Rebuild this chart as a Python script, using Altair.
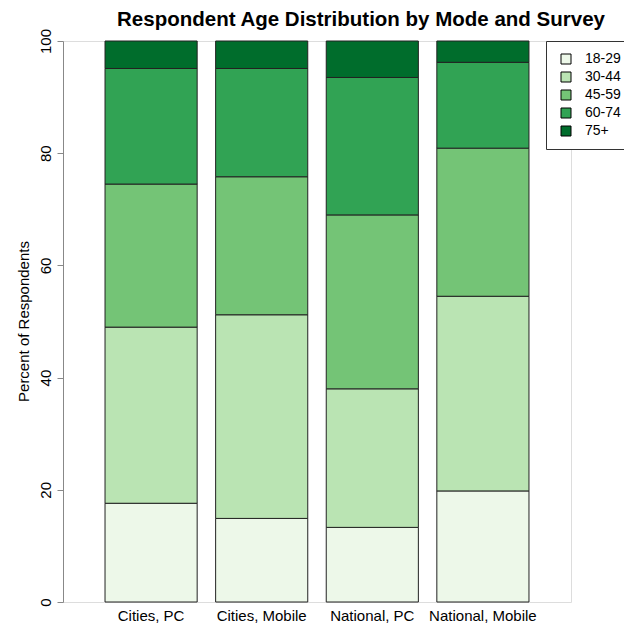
import altair as alt
import pandas as pd

# Survey groups (bars) and age bands (stack segments, bottom to top)
surveys = ["Cities, PC", "Cities, Mobile", "National, PC", "National, Mobile"]
age_groups = ["18-29", "30-44", "45-59", "60-74", "75+"]

# Percent of respondents in each age band, per survey group
pct_18_29 = [17.6, 14.9, 13.3, 19.8]
pct_30_44 = [31.4, 36.3, 24.7, 34.7]
pct_45_59 = [25.5, 24.6, 31.0, 26.4]
pct_60_74 = [20.6, 19.3, 24.5, 15.3]
pct_75_up = [4.9, 4.9, 6.5, 3.8]

greens = ["#edf8e9", "#bae4b3", "#74c476", "#31a354", "#006d2c"]
y_ticks = [0, 20, 40, 60, 80, 100]

series = [pct_18_29, pct_30_44, pct_45_59, pct_60_74, pct_75_up]
rows = []
for k, (age, vals) in enumerate(zip(age_groups, series)):
    for s, v in zip(surveys, vals):
        rows.append({"survey": s, "age": age, "order": k, "pct": v})
df = pd.DataFrame(rows)

FONT = "Liberation Sans"

bars = alt.Chart(df).mark_bar(stroke="#222222", strokeWidth=1).encode(
    x=alt.X(
        "survey:N",
        sort=surveys,
        title=None,
        scale=alt.Scale(paddingInner=0.167, paddingOuter=0.38),
        axis=alt.Axis(
            labelAngle=0,
            ticks=False,
            domain=False,
            labelFontSize=15,
            labelFont=FONT,
            labelColor="#000000",
            labelPadding=6,
        ),
    ),
    y=alt.Y(
        "pct:Q",
        stack="zero",
        title="Percent of Respondents",
        scale=alt.Scale(domain=[0, 100], nice=False),
        axis=alt.Axis(
            values=y_ticks,
            grid=False,
            labelAngle=270,
            labelAlign="center",
            labelBaseline="alphabetic",
            labelFontSize=15,
            labelFont=FONT,
            labelColor="#000000",
            labelPadding=7,
            tickSize=6,
            tickColor="#888888",
            domainColor="#888888",
            titleFont=FONT,
            titleFontSize=15,
            titleFontWeight="normal",
            titleColor="#000000",
            titleAngle=270,
            titleX=-35,
            titleY=280,
            titleAlign="center",
            titleBaseline="alphabetic",
        ),
    ),
    color=alt.Color(
        "age:N",
        sort=age_groups,
        scale=alt.Scale(domain=age_groups, range=greens),
        legend=alt.Legend(
            title=None,
            orient="none",
            legendX=483,
            legendY=0,
            symbolType="square",
            symbolSize=100,
            symbolStrokeColor="#000000",
            symbolStrokeWidth=1,
            symbolOpacity=1,
            symbolOffset=2,
            labelFont=FONT,
            labelFontSize=14,
            labelColor="#000000",
            labelOffset=12,
            labelLimit=300,
            # non-breaking blanks widen the legend frame past the right edge
            labelExpr="datum.label + '\u00a0\u00a0\u00a0\u00a0\u00a0\u00a0\u00a0\u00a0'",
            rowPadding=4,
            padding=11,
            strokeColor="#333333",
            fillColor="#ffffff",
        ),
    ),
    order=alt.Order("order:Q", sort="ascending"),
)

chart = bars.properties(
    width=508,
    height=561,
    title=alt.TitleParams(
        "Respondent Age Distribution by Mode and Survey",
        font=FONT,
        fontSize=20.5,
        fontWeight="bold",
        color="#000000",
        anchor="middle",
        dx=44,
        offset=0,
        dy=2,
    ),
    autosize=alt.AutoSizeParams(type="none"),
    padding={"left": 63, "top": 41, "right": 53, "bottom": 25},
).configure_view(stroke=None).configure(background="#ffffff")

chart.save("out.html", embed_options={"renderer": "svg", "actions": False})
